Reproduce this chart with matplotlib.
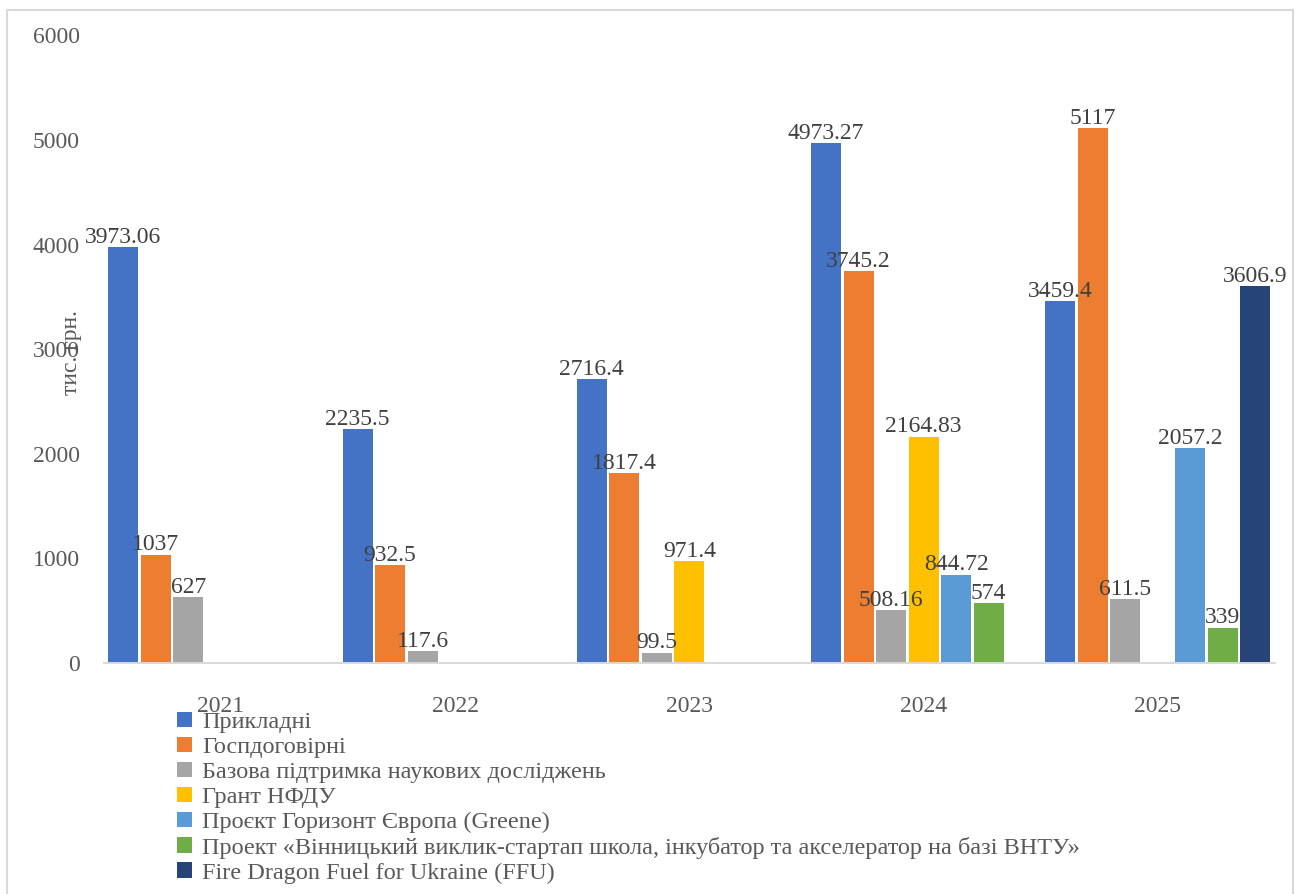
import numpy as np
import matplotlib
matplotlib.use("Agg")
import matplotlib.pyplot as plt
from matplotlib.patches import Rectangle

plt.rcParams['font.family'] = ['Liberation Serif', 'DejaVu Serif']

years = ["2021", "2022", "2023", "2024", "2025"]
series_names = [
    "Прикладні",
    "Госпдоговірні",
    "Базова підтримка наукових досліджень",
    "Грант НФДУ",
    "Проєкт Горизонт Європа (Greene)",
    "Проект «Вінницький виклик-стартап школа, інкубатор та акселератор на базі ВНТУ»",
    "Fire Dragon Fuel for Ukraine (FFU)",
]
nan = np.nan
prykladni = [3973.06, 2235.5, 2716.4, 4973.27, 3459.4]
hospdohovirni = [1037, 932.5, 1817.4, 3745.2, 5117]
bazova = [627, 117.6, 99.5, 508.16, 611.5]
grant_nfdu = [nan, nan, 971.4, 2164.83, nan]
horyzont = [nan, nan, nan, 844.72, 2057.2]
vinnytskyi = [nan, nan, nan, 574, 339]
ffu = [nan, nan, nan, nan, 3606.9]
series_values = [prykladni, hospdohovirni, bazova, grant_nfdu, horyzont, vinnytskyi, ffu]
colors = ["#4472C4", "#ED7D31", "#A5A5A5", "#FFC000", "#5B9BD5", "#70AD47", "#264478"]

FS = 17
W, H = 1299, 894
fig = plt.figure(figsize=(W / 100, H / 100), dpi=100)
ax = fig.add_axes([103.6 / W, 1 - 663 / H, (1275 - 103.6) / W, (663 - 35.4) / H])

x = np.arange(len(years))
step = 0.1387
width = 0.128
handles = []
for i, (name, vals, c) in enumerate(zip(series_names, series_values, colors)):
    v = np.array(vals, dtype=float)
    pos = x + (i - 3) * step
    b = ax.bar(pos, np.nan_to_num(v), width, color=c, label=name)
    handles.append(b)
    for xp, val in zip(pos, v):
        if np.isnan(val):
            continue
        ax.annotate(f"{val:g}", (xp, val), xytext=(0, 3.0), textcoords="offset points",
                    ha="center", va="baseline", fontsize=FS, color="#404040")

ax.set_xlim(-0.5, 4.5)
ax.set_ylim(0, 6000)
ax.set_yticks([0, 1000, 2000, 3000, 4000, 5000, 6000])
ax.set_xticks(x)
ax.set_xticklabels(years)
ax.tick_params(axis="y", length=0, pad=17, labelsize=FS, labelcolor="#595959")
ax.tick_params(axis="x", length=0, pad=24, labelsize=FS, labelcolor="#595959")
for s in ["top", "right", "left"]:
    ax.spines[s].set_visible(False)
ax.spines["bottom"].set_color("#D9D9D9")
ax.spines["bottom"].set_linewidth(1.4)

fig.text(71 / W, 1 - 353 / H, "тис. грн.", rotation=90, ha="center", va="center",
         fontsize=FS, color="#595959")

fig.legend(handles=handles, labels=series_names, loc="upper left",
           bbox_to_anchor=(177 / W, 1 - 712 / H), frameon=False, fontsize=17.5,
           labelcolor="#595959", handlelength=0.6, handleheight=0.6,
           handletextpad=0.42, labelspacing=0.15, borderpad=0, borderaxespad=0)

fig.add_artist(Rectangle((7 / W, -0.05), (1293 - 7) / W, 1 - 10 / H + 0.05,
                         transform=fig.transFigure, fill=False, edgecolor="#D9D9D9",
                         linewidth=1.5))

fig.savefig("out.png", dpi=100)
